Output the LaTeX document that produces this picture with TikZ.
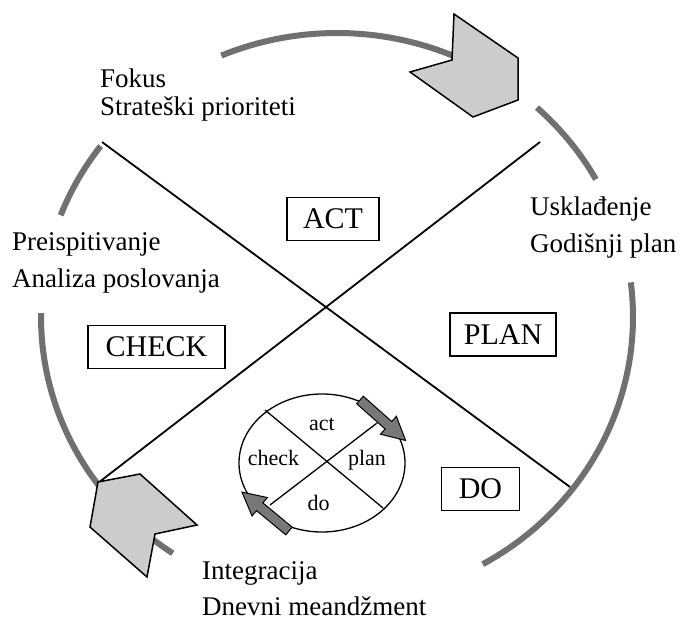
\documentclass[tikz,border=0pt]{standalone}
\usepackage{fontspec}
\setmainfont{Liberation Serif}
\definecolor{arcgray}{RGB}{112,112,112}
\definecolor{chevgray}{RGB}{204,204,204}
\definecolor{arrowgray}{RGB}{120,120,120}
\begin{document}
\begin{tikzpicture}[x=1pt,y=-1pt,
  bigarc/.style={draw=arcgray, line width=6pt},
  divline/.style={draw=black, line width=1.8pt},
  thinline/.style={draw=black, line width=1.3pt},
  chev/.style={fill=chevgray, draw=black, line width=1.5pt, line join=miter},
  phasebox/.style={draw=black, line width=1.6pt, minimum height=43pt, inner sep=0pt, font=\fontsize{30}{30}\selectfont},
  lbl/.style={anchor=base west, inner sep=0pt, font=\fontsize{27}{27}\selectfont},
  smalllbl/.style={anchor=base, inner sep=0pt, font=\fontsize{22}{22}\selectfont},
  inarrow/.style={fill=arrowgray, draw=black, line width=1pt, line join=miter}]
\useasboundingbox (0,0) rectangle (681,621);
\fill[white] (0,0) rectangle (681,621);
% big ring segments
\draw[bigarc] plot[domain=247:295, samples=50, smooth] ({337+296*cos(\x)},{317+284*sin(\x)});
\draw[bigarc] plot[domain=-47.5:-29, samples=20, smooth] ({337+296*cos(\x)},{317+284*sin(\x)});
\draw[bigarc] plot[domain=-7:60.5, samples=60, smooth] ({337+296*cos(\x)},{317+284*sin(\x)});
\draw[bigarc] plot[domain=201:217, samples=20, smooth] ({337+296*cos(\x)},{317+284*sin(\x)});
\draw[bigarc] plot[domain=123.7:180.8, samples=50, smooth] ({337+296*cos(\x)},{317+284*sin(\x)});
% dividing lines
\coordinate (l1a) at (102,142);
\coordinate (l1b) at (570,487);
\coordinate (l2a) at (540,142);
\coordinate (l2b) at (98,483);
\draw[divline] (l1a) -- (l1b);
\draw[divline] (l2a) -- (l2b);
% chevrons
\draw[chev] (454,14) -- (518,58) -- (518,100) -- (473,117) -- (410,72) -- (452,60) -- cycle;
\draw[chev] (98,482) -- (140,474) -- (197,525) -- (155,534) -- (147,577) -- (90,527) -- cycle;
% phase boxes
\node[phasebox, minimum width=92pt] (act) at (333,219) {ACT};
\node[phasebox, minimum width=106pt] (plan) at (503,334.5) {PLAN};
\node[phasebox, minimum width=137pt] (check) at (156.5,347) {CHECK};
\node[phasebox, minimum width=78pt] (do) at (480.5,489) {DO};
% outer labels
\node[lbl] (fokus) at (100,87) {Fokus};
\node[lbl] (strat) at (100,115) {Strateški prioriteti};
\node[lbl] (usk) at (530,215) {Usklađenje};
\node[lbl] (god) at (530,252) {Godišnji plan};
\node[lbl] (preis) at (12,250) {Preispitivanje};
\node[lbl] (anal) at (12,287) {Analiza poslovanja};
\node[lbl] (integ) at (202,579) {Integracija};
\node[lbl] (dnev) at (202,615) {Dnevni meandžment};
% inner cycle
\draw[thinline] (322,463) ellipse [x radius=83, y radius=69];
\coordinate (i1a) at (265,410);
\coordinate (i1b) at (383,508);
\coordinate (i2a) at (377,423);
\coordinate (i2b) at (270,505);
\draw[thinline] (i1a) -- (i1b);
\draw[thinline] (i2a) -- (i2b);
\begin{scope}[shift={(360,400)}, rotate=-41.6]
  \draw[inarrow] (0,-5) -- (38,-5) -- (38,-12) -- (61,0) -- (38,12) -- (38,5) -- (0,5) -- cycle;
\end{scope}
\begin{scope}[shift={(289,531)}, rotate=140.4]
  \draw[inarrow] (0,-5) -- (38,-5) -- (38,-12) -- (61,0) -- (38,12) -- (38,5) -- (0,5) -- cycle;
\end{scope}
\node[smalllbl] (sact) at (322,430) {act};
\node[smalllbl] (scheck) at (273.5,465) {check};
\node[smalllbl] (splan) at (367,465) {plan};
\node[smalllbl] (sdo) at (318.5,510) {do};
\end{tikzpicture}
\end{document}
